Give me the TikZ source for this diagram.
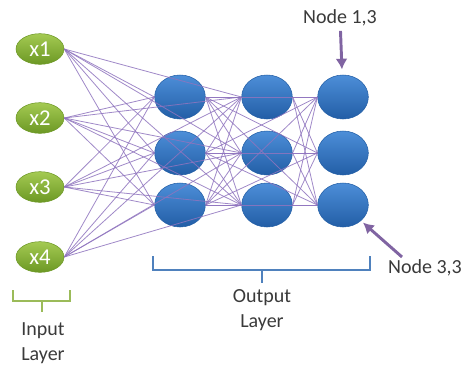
\documentclass[tikz,border=0pt]{standalone}
\usepackage{fontspec}
\setmainfont{Carlito}
\usetikzlibrary{shapes.geometric,arrows.meta}
\definecolor{vertclair}{HTML}{A4CA52}
\definecolor{vertfonce}{HTML}{6C9824}
\definecolor{bleuclair}{HTML}{4D8ED8}
\definecolor{bleufonce}{HTML}{225EA6}
\definecolor{violetclair}{HTML}{8F74BE}
\definecolor{violetfonce}{HTML}{8064A2}
\definecolor{accolbleu}{HTML}{4F81BD}
\definecolor{accolvert}{HTML}{9BBB59}
\definecolor{gristexte}{HTML}{3A3A3A}

\begin{document}
\begin{tikzpicture}[x=0.75pt,y=-0.75pt]
\tikzset{noeudvert/.style={ellipse, draw=vertfonce, top color=vertclair, bottom color=vertfonce, text=white, minimum width=36pt, minimum height=23pt, inner sep=0pt, font=\fontsize{17}{20}\selectfont},
noeudbleu/.style={ellipse, draw=bleufonce, top color=bleuclair, bottom color=bleufonce, minimum width=38pt, minimum height=33pt, inner sep=0pt},
lien/.style={draw=violetclair, line width=0.6pt, opacity=0.85},
fleche/.style={draw=violetfonce, line width=2.2pt, -{Latex[length=8pt,width=9pt]}},
accolade/.style={line width=2.2pt},
texte/.style={text=gristexte, align=center, font=\fontsize{15}{18.75}\selectfont}}
\useasboundingbox (0,0) rectangle (467,365);
\node[noeudvert] (X1) at (40,49) {x1};
\node[noeudvert] (X2) at (40,118) {x2};
\node[noeudvert] (X3) at (40,187) {x3};
\node[noeudvert] (X4) at (40,257) {x4};
\node[noeudbleu] (A1) at (180,97) {};
\node[noeudbleu] (A2) at (180,153) {};
\node[noeudbleu] (A3) at (180,205) {};
\node[noeudbleu] (B1) at (267,97) {};
\node[noeudbleu] (B2) at (267,153) {};
\node[noeudbleu] (B3) at (267,205) {};
\node[noeudbleu] (C1) at (343,97) {};
\node[noeudbleu] (C2) at (343,153) {};
\node[noeudbleu] (C3) at (343,205) {};
\foreach \i in {1,2,3,4}
  \foreach \j in {1,2,3} {
    \draw[lien] (X\i.east) -- (A\j.west);
    \draw[lien] (X\i.east) -- (B\j.west);
  }
\foreach \i in {1,2,3}
  \foreach \j in {1,2,3} {
    \draw[lien] (A\i.east) -- (B\j.west);
    \draw[lien] (A\i.east) -- (C\j.west);
    \draw[lien] (B\i.east) -- (C\j.west);
  }
\node[texte] (N13) at (340,18) {Node 1,3};
\node[texte] (N33) at (425,268) {Node 3,3};
\coordinate (P33) at (402,257);
\draw[fleche, shorten >=4pt] (N13) -- (C1);
\draw[fleche, shorten >=2pt] (P33) -- (C3);
\draw[accolade, accolbleu] (153,256) -- (153,270) -- (370,270) -- (370,256);
\draw[accolade, accolbleu] (262,270) -- (262,283);
\node[texte] (Sortie) at (262,310) {Output\\Layer};
\draw[accolade, accolvert] (13,290) -- (13,301) -- (70,301) -- (70,290);
\draw[accolade, accolvert] (42,301) -- (42,312);
\node[texte] (Entree) at (43,343) {Input\\Layer};
\end{tikzpicture}
\end{document}
